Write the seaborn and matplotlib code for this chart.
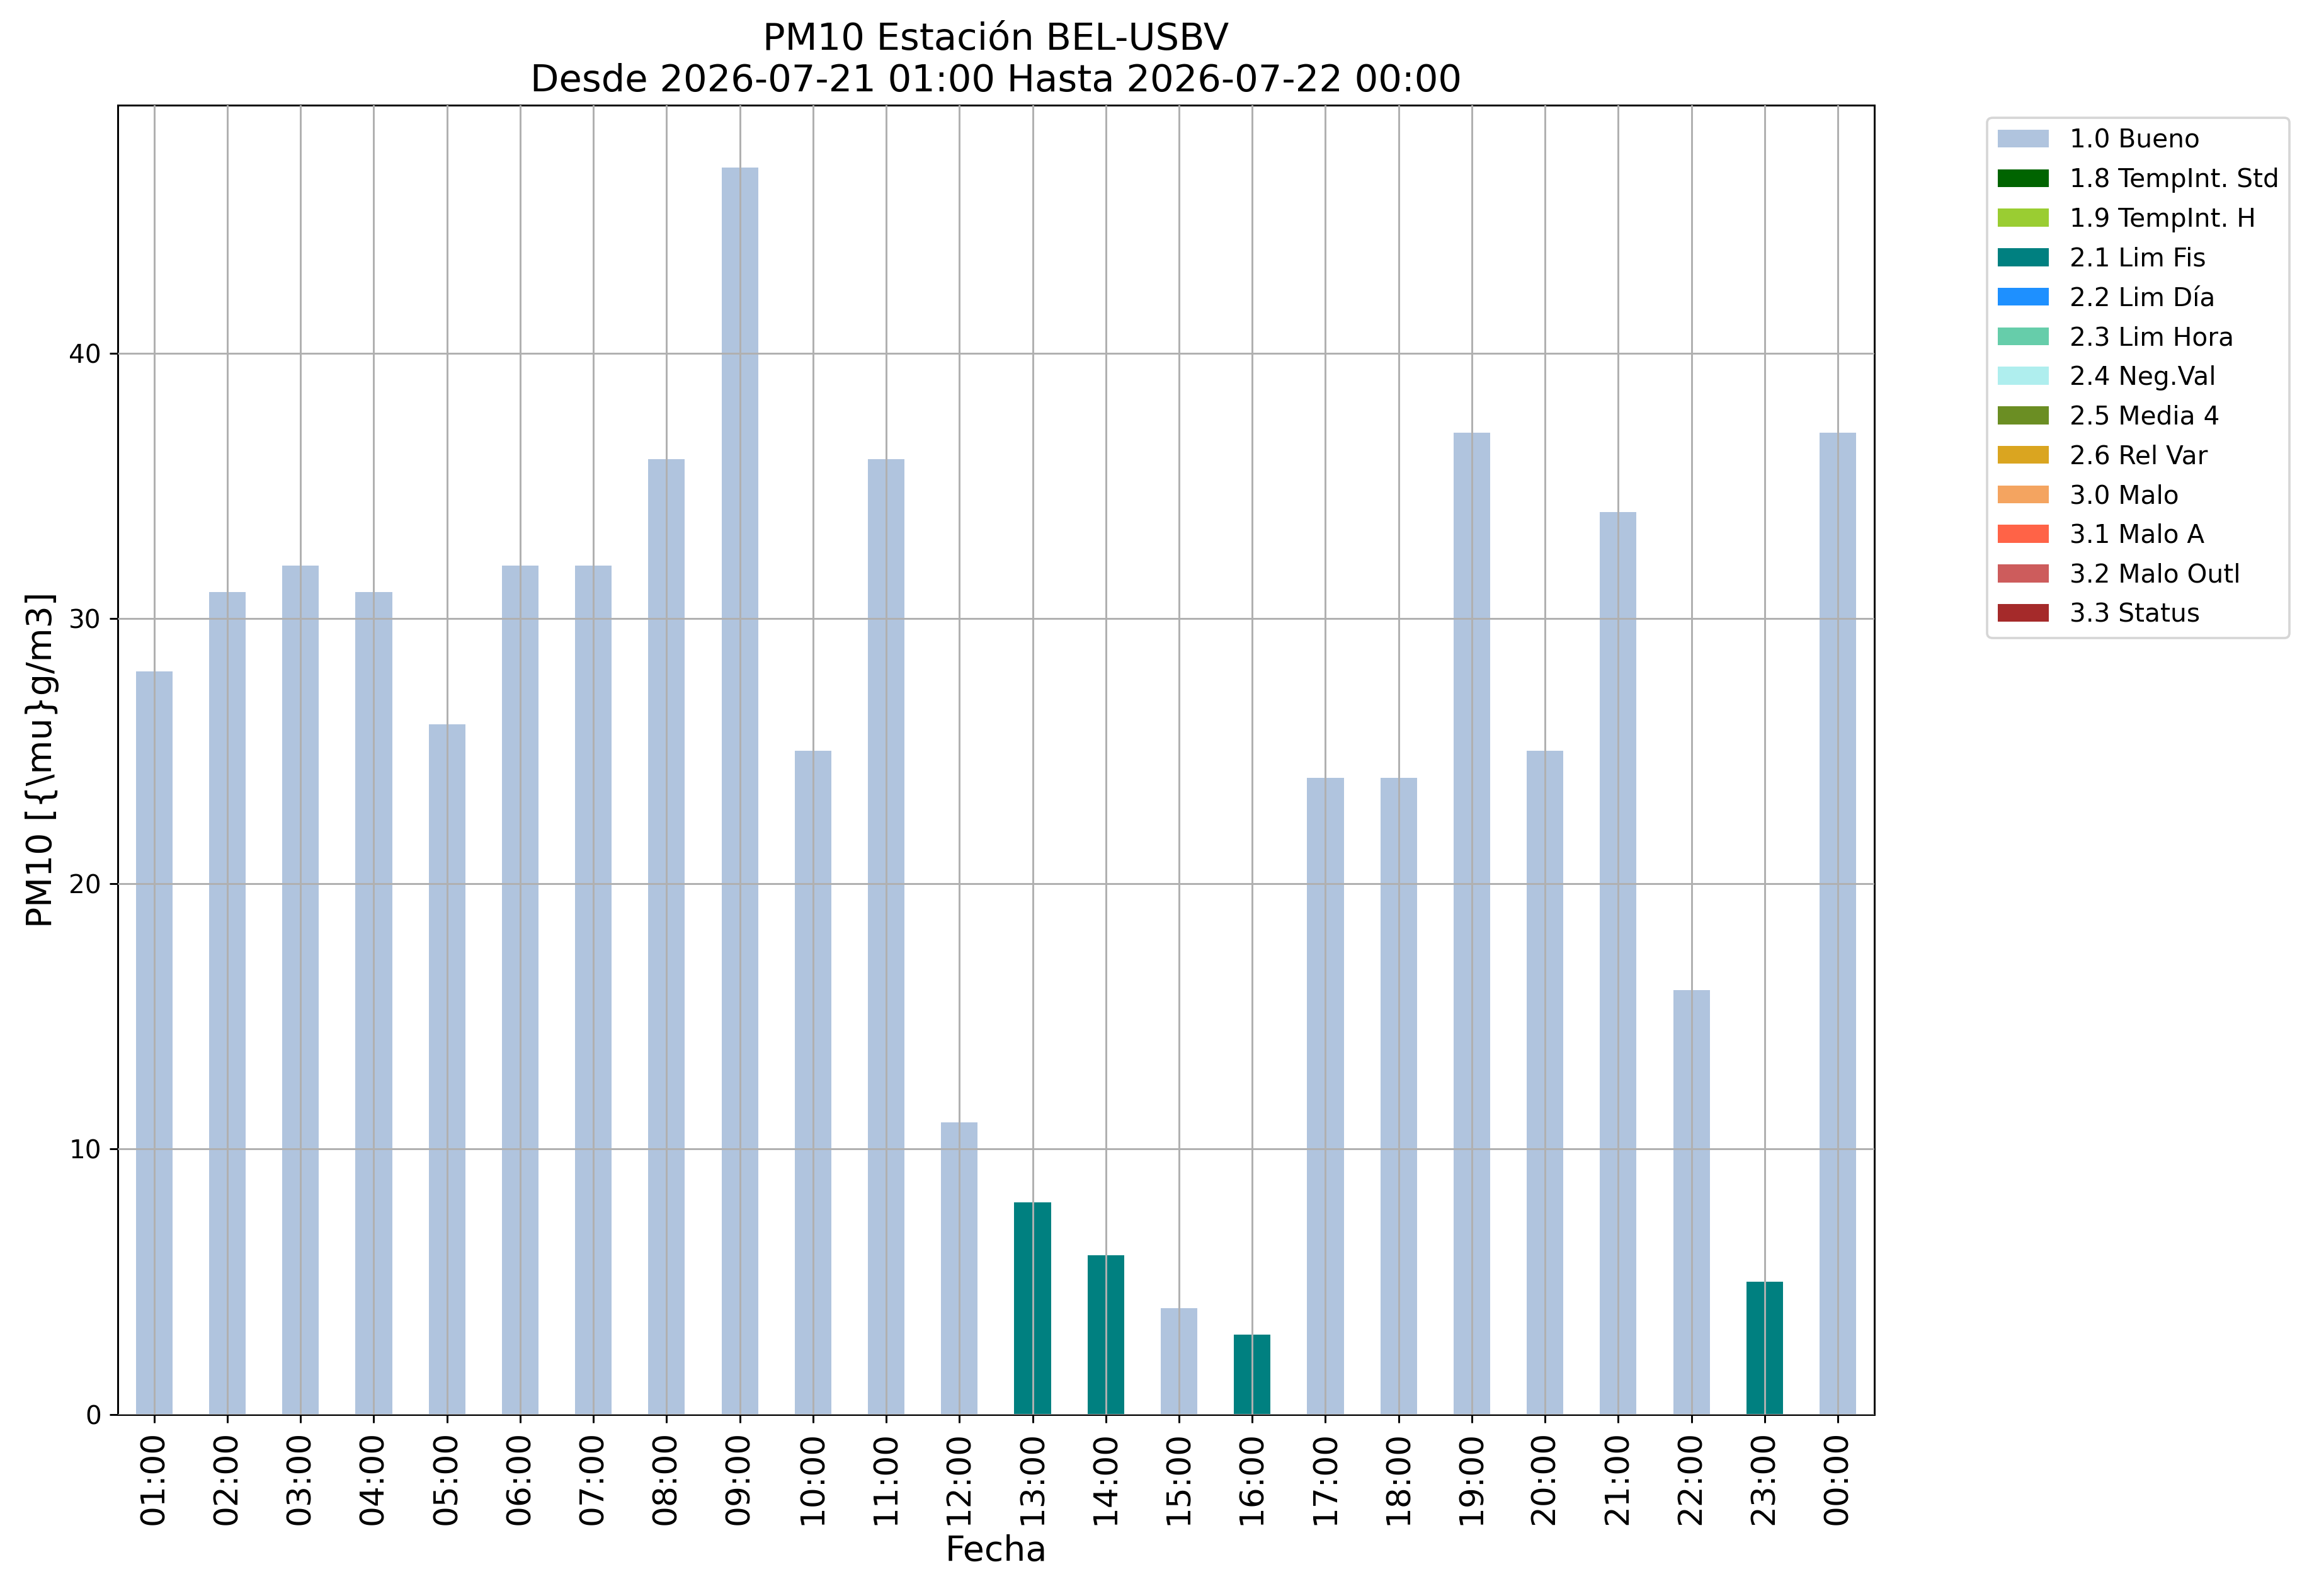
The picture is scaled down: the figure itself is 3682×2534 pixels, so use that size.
import pandas as pd
import seaborn as sns
import matplotlib.pyplot as plt
from matplotlib.patches import Patch

# Data
hours = ['01:00', '02:00', '03:00', '04:00', '05:00', '06:00', '07:00', '08:00',
         '09:00', '10:00', '11:00', '12:00', '13:00', '14:00', '15:00', '16:00',
         '17:00', '18:00', '19:00', '20:00', '21:00', '22:00', '23:00', '00:00']
pm10 = [28, 31, 32, 31, 26, 32, 32, 36, 47, 25, 36, 11, 8, 6, 4, 3, 24, 24, 37, 25, 34, 16, 5, 37]
flags = ['1.0 Bueno'] * 12 + ['2.1 Lim Fis', '2.1 Lim Fis', '1.0 Bueno', '2.1 Lim Fis'] + \
        ['1.0 Bueno'] * 6 + ['2.1 Lim Fis', '1.0 Bueno']

flagNames = ['1.0 Bueno', '1.8 TempInt. Std', '1.9 TempInt. H', '2.1 Lim Fis', '2.2 Lim Día',
             '2.3 Lim Hora', '2.4 Neg.Val', '2.5 Media 4', '2.6 Rel Var', '3.0 Malo',
             '3.1 Malo A', '3.2 Malo Outl', '3.3 Status']
flagColors = ['lightsteelblue', 'darkgreen', 'yellowgreen', 'teal', 'dodgerblue',
              'mediumaquamarine', 'paleturquoise', 'olivedrab', 'goldenrod', 'sandybrown',
              'tomato', 'indianred', 'brown']
pFlag = dict(zip(flagNames, flagColors))

data = pd.DataFrame({'Fecha': hours, 'PM10': pm10, 'flag': flags})

# Plotting
dpi = 266
fig = plt.figure(figsize=(3682 / dpi, 2534 / dpi), dpi=dpi)
ax = fig.add_axes([0.0507, 0.1138, 0.8083 - 0.0507, 0.9342 - 0.1138])
sns.barplot(x='Fecha', y='PM10', hue='flag', data=data, order=hours, hue_order=flagNames,
            palette=pFlag, dodge=False, width=0.5, saturation=1, errorbar=None, ax=ax)
ax.grid(True, color='#b0b0b0', lw=0.8)
ax.set_axisbelow(False)
ax.set_xlim(-0.5, len(hours) - 0.5)
ax.set_yticks([0, 10, 20, 30, 40])
ax.tick_params(axis='x', labelsize=14, labelrotation=90)
ax.tick_params(axis='y', labelsize=11)
ax.set_xlabel('Fecha', fontsize=15)
ax.set_ylabel('PM10 [{\\mu}g/m3]', fontsize=15)
ax.set_title('PM10 Estación BEL-USBV\nDesde 2026-07-21 01:00 Hasta 2026-07-22 00:00', fontsize=16)
handles = [Patch(facecolor=c, label=n) for n, c in zip(flagNames, flagColors)]
ax.legend(handles=handles, loc='upper left', bbox_to_anchor=(1.057, 1), fontsize=11, labelspacing=0.56)

fig.savefig('out.png', dpi=dpi)
